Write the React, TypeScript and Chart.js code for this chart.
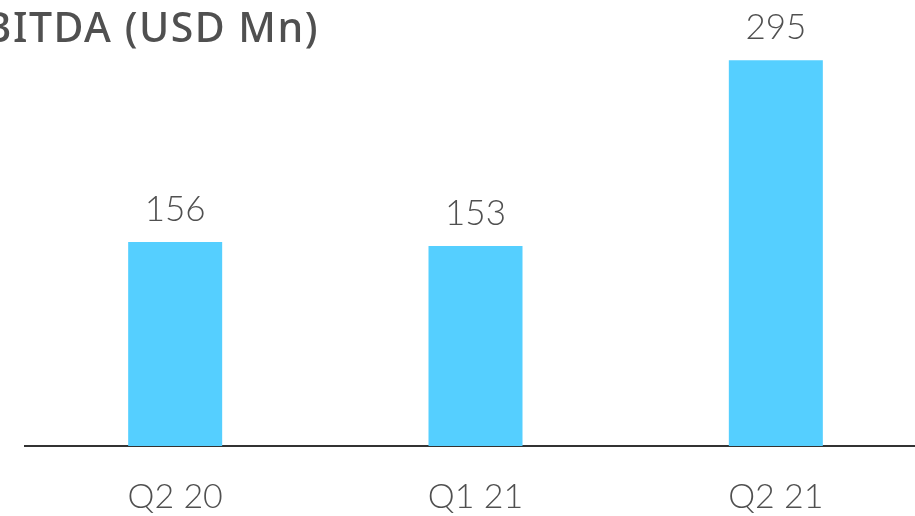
import React, { useEffect, useRef } from "react";
import { Chart, registerables } from "chart.js";

Chart.register(...registerables);

const categories = ["Q2 20", "Q1 21", "Q2 21"];
const ebitda = [156, 153, 295];
const valueLabels = ["156", "153", "295"];
const titleText = "EBITDA (USD Mn)";

const TEXT_COLOR = "#505050";
const BAR_COLOR = "#55CFFF";

const overlayPlugin = {
  id: "overlay",
  afterDatasetsDraw(chart: any) {
    const ctx = chart.ctx;
    const meta = chart.getDatasetMeta(0);
    ctx.save();
    ctx.fillStyle = TEXT_COLOR;
    ctx.font = "300 35px Lato, 'Open Sans', sans-serif";
    ctx.textAlign = "center";
    ctx.textBaseline = "alphabetic";
    meta.data.forEach((bar: any, i: number) => {
      ctx.fillText(valueLabels[i], bar.x, bar.y - 21);
    });
    ctx.font = "500 41px 'Noto Sans', sans-serif";
    try { (ctx as any).letterSpacing = "1.5px"; } catch (e) {}
    ctx.textAlign = "right";
    ctx.fillText(titleText, 319, 42);
    ctx.restore();
  },
};

export default function App() {
  const ref = useRef<HTMLCanvasElement | null>(null);
  useEffect(() => {
    if (!ref.current) return;
    const chart = new Chart(ref.current, {
      type: "bar",
      data: {
        labels: categories,
        datasets: [
          {
            data: ebitda,
            backgroundColor: BAR_COLOR,
            borderWidth: 0,
            barPercentage: 0.313,
            categoryPercentage: 1,
          },
        ],
      },
      options: {
        responsive: false,
        animation: false,
        layout: { padding: { left: 25, right: 14, top: 21, bottom: 3 } },
        plugins: {
          legend: { display: false },
          tooltip: { enabled: false },
          title: { display: false },
        },
        scales: {
          x: {
            grid: { display: false, drawTicks: false },
            border: { display: true, color: "#333333", width: 2 },
            ticks: {
              color: TEXT_COLOR,
              padding: 34,
              font: { family: "Lato, 'Open Sans', sans-serif", size: 34, weight: "300", lineHeight: 1 },
            },
          },
          y: {
            display: false,
            min: 0,
            max: 325,
          },
        },
      },
      plugins: [overlayPlugin],
    });
    return () => chart.destroy();
  }, []);
  return (
    <div style={{ position: "fixed", left: 0, top: 0, width: 915, height: 516, overflow: "hidden", background: "#fff" }}>
      <canvas ref={ref} width={940} height={551} style={{ width: 940, height: 551, display: "block" }} />
    </div>
  );
}
